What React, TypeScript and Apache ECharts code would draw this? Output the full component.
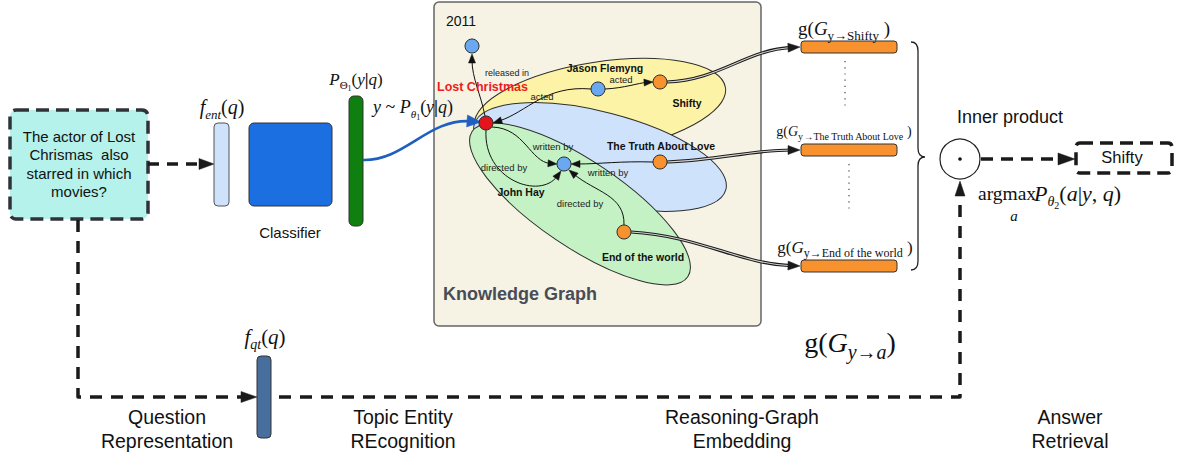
import React, { useEffect, useRef } from 'react';
import * as echarts from 'echarts';

// ---------- diagram content ----------
const QUESTION_LINES = ['The actor of Lost', 'Chrismas  also', 'starred in which', 'movies?'];
const STAGE_LABELS = [
  ['Question', 'Representation'],
  ['Topic Entity', 'REcognition'],
  ['Reasoning-Graph', 'Embedding'],
  ['Answer', 'Retrieval'],
];
const TOPIC_ENTITY = 'Lost Christmas';
const YEAR_NODE = '2011';
const CANDIDATES = ['Shifty', 'The Truth About Love', 'End of the world'];
const PEOPLE = ['Jason Flemyng', 'John Hay'];
const RELATIONS = ['released in', 'acted', 'written by', 'directed by'];
const ANSWER = 'Shifty';
const CLASSIFIER_LABEL = 'Classifier';
const KG_TITLE = 'Knowledge Graph';
const INNER_PRODUCT = 'Inner product';

// ---------- styling helpers ----------
const SERIF = '"Liberation Serif", "Times New Roman", serif';
const SANS = '"Liberation Sans", Arial, Helvetica, sans-serif';
const INK = '#1a1a1a';

let braceRegistered = false;
function ensureBrace() {
  if (braceRegistered) return;
  braceRegistered = true;
  const d = 'M911,42 Q918,42 918,51 L918,148 Q918,157 925,157 Q918,157 918,166 L918,261 Q918,270 911,270';
  (echarts.graphic as any).registerShape('brace', (echarts.graphic as any).extendPath(d, {}));
}

function label(x: number, y: number, text: string, size: number, extra: any = {}) {
  return {
    type: 'text', x, y,
    style: { text, fontSize: size, fontFamily: SANS, fill: '#111', align: 'center', verticalAlign: 'middle', ...extra },
  };
}

function mtext(x: number, y: number, toks: [string, string][], size: number, sub: number, align = 'center') {
  const base = { fontFamily: SERIF, fill: '#111' };
  const lh = Math.round(size * 1.2);
  const rich: any = {
    i: { ...base, fontStyle: 'italic', fontSize: size, lineHeight: lh },
    n: { ...base, fontSize: size, lineHeight: lh },
    b: { ...base, fontWeight: 'bold', fontSize: size, lineHeight: lh },
    si: { ...base, fontStyle: 'italic', fontSize: sub, verticalAlign: 'bottom', height: Math.round(sub * 0.7) },
    sn: { ...base, fontSize: sub, verticalAlign: 'bottom', height: Math.round(sub * 0.7) },
    ss: { ...base, fontSize: Math.round(sub * 0.7), verticalAlign: 'bottom', height: 2 },
  };
  return {
    type: 'text', x, y,
    style: { text: toks.map(([t, k]) => `{${k}|${t}}`).join(''), rich, align, verticalAlign: 'middle' },
  };
}

function head(tx: number, ty: number, fx: number, fy: number, len: number, w: number, color: string) {
  const a = Math.atan2(ty - fy, tx - fx);
  const c = Math.cos(a), s = Math.sin(a);
  const bx = tx - len * c, by = ty - len * s;
  return {
    type: 'polygon',
    shape: { points: [[tx, ty], [bx - s * w, by + c * w], [bx + s * w, by - c * w]] },
    style: { fill: color, stroke: color, lineWidth: 0.5 },
  };
}

function bez(p0: number[], c1: number[], c2: number[], p3: number[], style: any) {
  return {
    type: 'bezierCurve',
    shape: { x1: p0[0], y1: p0[1], cpx1: c1[0], cpy1: c1[1], cpx2: c2[0], cpy2: c2[1], x2: p3[0], y2: p3[1] },
    style: { fill: null, ...style },
  };
}

function arrowCurve(p0: number[], c1: number[], c2: number[], tip: number[], len: number, w: number, color: string, lw: number, double = false) {
  const a = Math.atan2(tip[1] - c2[1], tip[0] - c2[0]);
  const end = [tip[0] - Math.cos(a) * len * 0.7, tip[1] - Math.sin(a) * len * 0.7];
  const out: any[] = [bez(p0, c1, c2, end, { stroke: color, lineWidth: lw })];
  if (double) out.push(bez(p0, c1, c2, end, { stroke: '#d4d4d4', lineWidth: 1.1 }));
  out.push(head(tip[0], tip[1], c2[0], c2[1], len, w, color));
  return out;
}

function node(x: number, y: number, fill: string) {
  return { type: 'circle', shape: { cx: x, cy: y, r: 7 }, style: { fill, stroke: '#2a2a2a', lineWidth: 1 } };
}

function ellipse(cx: number, cy: number, rx: number, ry: number, rot: number, fill: string) {
  return {
    type: 'ellipse', x: cx, y: cy, rotation: rot,
    shape: { cx: 0, cy: 0, rx, ry },
    style: { fill, stroke: '#2e2e2e', lineWidth: 1 },
  };
}

function gLabel(x: number, y: number, target: string, size: number, sub: number) {
  return mtext(x, y, [['g', 'n'], ['(', 'n'], ['G', 'i'], ['y', 'sn'], ['→' + target, 'sn'], [' )', 'n']], size, sub);
}

function buildElements() {
  const els: any[] = [];
  const BLUE_NODE = '#6aa9f1';
  const ORANGE = '#f7922f';

  // ---- question box ----
  els.push({
    type: 'rect', shape: { x: 10, y: 110, width: 138, height: 109, r: 6 },
    style: { fill: '#b4f2eb', stroke: '#2f3338', lineWidth: 3.5, lineDash: [13, 7] },
  });
  els.push(label(79, 164, QUESTION_LINES.join('\n'), 15, { lineHeight: 18.5 }));

  // ---- bottom dashed route ----
  els.push({
    type: 'polyline', shape: { points: [[78, 220], [78, 397], [960, 397], [960, 197]] },
    style: { stroke: INK, lineWidth: 3.5, lineDash: [12, 9], lineJoin: 'round', fill: null },
  });
  els.push(head(257, 397, 240, 397, 16, 5.5, INK));
  els.push(head(960, 181, 960, 197, 15, 5, INK));

  // ---- question -> f_ent ----
  els.push({
    type: 'polyline', shape: { points: [[148, 164], [200, 164]] },
    style: { stroke: INK, lineWidth: 3.5, lineDash: [11, 8], fill: null },
  });
  els.push(head(214, 164, 198, 164, 15, 5.5, INK));

  // ---- f_ent bar, classifier, output bar ----
  els.push({ type: 'rect', shape: { x: 214, y: 123, width: 15, height: 83, r: 4 }, style: { fill: '#cfe2fb', stroke: '#555', lineWidth: 1 } });
  els.push(mtext(222, 107, [['f', 'i'], ['ent', 'si'], ['(', 'n'], ['q', 'i'], [')', 'n']], 20, 13));
  els.push({ type: 'rect', shape: { x: 249, y: 123, width: 83, height: 83, r: 5 }, style: { fill: '#1c6fe0', stroke: '#333', lineWidth: 1 } });
  els.push(label(290, 232, CLASSIFIER_LABEL, 15));
  els.push({ type: 'rect', shape: { x: 349, y: 96, width: 14, height: 130, r: 5 }, style: { fill: '#0f800f', stroke: '#333', lineWidth: 1 } });
  els.push(mtext(356, 79, [['P', 'i'], ['Θ', 'sn'], ['1', 'ss'], ['(', 'n'], ['y', 'i'], ['|', 'b'], ['q', 'i'], [')', 'n']], 17, 11));

  // ---- f_qt bar ----
  els.push({ type: 'rect', shape: { x: 257, y: 356, width: 14, height: 82, r: 4 }, style: { fill: '#476e9d', stroke: '#333', lineWidth: 1 } });
  els.push(mtext(265, 337, [['f', 'i'], ['qt', 'si'], ['(', 'n'], ['q', 'i'], [')', 'n']], 21, 14));

  // ---- knowledge graph panel ----
  els.push({ type: 'rect', shape: { x: 434, y: 2, width: 327, height: 324, r: 5 }, style: { fill: '#f6f3e4', stroke: '#666', lineWidth: 1.5 } });
  els.push(ellipse(600, 107, 127, 45, 0.154, '#fdf3a6'));
  els.push(ellipse(600, 157, 130, 45, -0.253, '#cfe2fb'));
  els.push(ellipse(580, 204, 130, 43, -0.593, '#c4f2c5'));

  // sampled topic entity label (overlaps the panel edge)
  els.push(mtext(373, 107, [['y', 'i'], [' ~ ', 'n'], ['P', 'i'], ['θ', 'si'], ['1', 'ss'], ['(', 'n'], ['y', 'i'], ['|', 'b'], ['q', 'i'], [')', 'n']], 18, 11, 'left'));

  // blue classifier -> topic entity
  els.push(...arrowCurve([363, 160], [405, 161], [428, 118], [481, 122], 14, 6, '#1f5fbf', 2.6));

  // KG edges
  const E = '#111';
  els.push(...arrowCurve([485, 116], [481, 95], [472, 78], [472, 54], 9, 3.5, E, 1));
  els.push(...arrowCurve([605, 89], [625, 88], [638, 83], [653, 82], 9, 3.5, E, 1));
  els.push(...arrowCurve([591, 89], [545, 85], [527, 112], [493, 123], 9, 3.5, E, 1));
  els.push(...arrowCurve([492, 127], [525, 128], [530, 162], [557, 164], 9, 3.5, E, 1));
  els.push(...arrowCurve([486, 130], [483, 180], [540, 200], [561, 171], 9, 3.5, E, 1));
  els.push(...arrowCurve([653, 162], [620, 161], [600, 164], [571, 164], 9, 3.5, E, 1));
  els.push(...arrowCurve([624, 225], [625, 195], [595, 192], [569, 170], 9, 3.5, E, 1));

  // KG -> candidate embeddings (double lines)
  els.push(...arrowCurve([667, 82], [720, 80], [745, 50], [800, 47], 12, 4.5, INK, 3.2, true));
  els.push(...arrowCurve([667, 162], [720, 160], [750, 150], [800, 150], 12, 4.5, INK, 3.2, true));
  els.push(...arrowCurve([631, 232], [700, 236], [740, 264], [800, 266], 12, 4.5, INK, 3.2, true));

  // nodes
  els.push(node(472, 46, BLUE_NODE));
  els.push(node(486, 123, '#e3141b'));
  els.push(node(598, 89, BLUE_NODE));
  els.push(node(660, 82, ORANGE));
  els.push(node(564, 164, BLUE_NODE));
  els.push(node(660, 162, ORANGE));
  els.push(node(624, 232, ORANGE));

  // KG labels
  els.push(label(446, 21, YEAR_NODE, 14, { align: 'left' }));
  els.push(label(437, 87, TOPIC_ENTITY, 12.5, { align: 'left', fontWeight: 'bold', fill: '#ee1c1c' }));
  els.push(label(507, 73, RELATIONS[0], 9, { fill: '#222' }));
  els.push(label(621, 79, RELATIONS[1], 9.5, { fill: '#222' }));
  els.push(label(542, 96, RELATIONS[1], 9.5, { fill: '#222' }));
  els.push(label(553, 146, RELATIONS[2], 9.5, { fill: '#222' }));
  els.push(label(608, 172, RELATIONS[2], 9.5, { fill: '#222' }));
  els.push(label(504, 167, RELATIONS[3], 9.5, { fill: '#222' }));
  els.push(label(580, 203, RELATIONS[3], 9.5, { fill: '#222' }));
  els.push(label(605, 68, PEOPLE[0], 10.5, { fontWeight: 'bold' }));
  els.push(label(521, 192, PEOPLE[1], 10.5, { fontWeight: 'bold' }));
  els.push(label(687, 103, CANDIDATES[0], 10.5, { fontWeight: 'bold' }));
  els.push(label(661, 146, CANDIDATES[1], 10.5, { fontWeight: 'bold' }));
  els.push(label(643, 257, CANDIDATES[2], 10.5, { fontWeight: 'bold' }));
  els.push(label(443, 294, KG_TITLE, 18, { align: 'left', fontWeight: 'bold', fill: '#474c57' }));

  // ---- candidate embedding bars ----
  [41, 144, 260].forEach((y) => {
    els.push({ type: 'rect', shape: { x: 801, y, width: 96, height: 12, r: 3 }, style: { fill: ORANGE, stroke: '#333', lineWidth: 1 } });
  });
  els.push(gLabel(844, 28, CANDIDATES[0], 19, 13));
  els.push(gLabel(844, 131, CANDIDATES[1], 14, 10));
  els.push(gLabel(845, 247, CANDIDATES[2], 17, 12));
  els.push({ type: 'line', shape: { x1: 845, y1: 61, x2: 845, y2: 108 }, style: { stroke: '#444', lineWidth: 1.2, lineDash: [1.2, 5] } });
  els.push({ type: 'line', shape: { x1: 849, y1: 164, x2: 849, y2: 211 }, style: { stroke: '#444', lineWidth: 1.2, lineDash: [1.2, 5] } });
  els.push({ type: 'brace', style: { fill: 'none', stroke: '#222', lineWidth: 1.3 } });
  els.push(mtext(850, 342, [['g', 'n'], ['(', 'n'], ['G', 'i'], ['y', 'si'], ['→', 'sn'], ['a', 'si'], [')', 'n']], 28, 20));

  // ---- inner product & answer ----
  els.push({ type: 'circle', shape: { cx: 960, cy: 159, r: 20 }, style: { fill: '#fff', stroke: '#222', lineWidth: 1.2 } });
  els.push({ type: 'circle', shape: { cx: 960, cy: 159, r: 1.8 }, style: { fill: '#111' } });
  els.push(label(957, 117, INNER_PRODUCT, 18, { align: 'left' }));
  els.push({
    type: 'polyline', shape: { points: [[981, 159], [1059, 159]] },
    style: { stroke: INK, lineWidth: 3.5, lineDash: [12, 8], fill: null },
  });
  els.push(head(1075, 159, 1058, 159, 17, 6, INK));
  els.push({
    type: 'rect', shape: { x: 1076, y: 143, width: 96, height: 30, r: 4 },
    style: { fill: '#fff', stroke: INK, lineWidth: 3.5, lineDash: [13, 7] },
  });
  els.push(label(1122, 157, ANSWER, 16.5));
  els.push(mtext(978, 193, [['argmax', 'n']], 19.5, 13, 'left'));
  els.push(mtext(1034, 193, [['P', 'i'], ['θ', 'si'], ['2', 'ss'], ['(', 'n'], ['a', 'i'], ['|', 'n'], ['y', 'i'], [', ', 'n'], ['q', 'i'], [')', 'n']], 22, 14, 'left'));
  els.push(mtext(1014, 216, [['a', 'i']], 15, 10));

  // ---- stage labels ----
  const stageX = [167, 403, 742, 1070];
  STAGE_LABELS.forEach((lines, i) => {
    els.push(label(stageX[i], 429, lines.join('\n'), 19.5, { lineHeight: 23.5 }));
  });

  return els;
}

export default function App() {
  const ref = useRef<HTMLDivElement>(null);
  useEffect(() => {
    if (!ref.current) return;
    ensureBrace();
    const chart = echarts.init(ref.current, null, { renderer: 'svg' });
    chart.setOption({
      animation: false,
      backgroundColor: '#ffffff',
      graphic: { elements: buildElements() },
    });
    return () => chart.dispose();
  }, []);
  return <div ref={ref} style={{ position: 'absolute', left: 0, top: 0, width: 1177, height: 456 }} />;
}
